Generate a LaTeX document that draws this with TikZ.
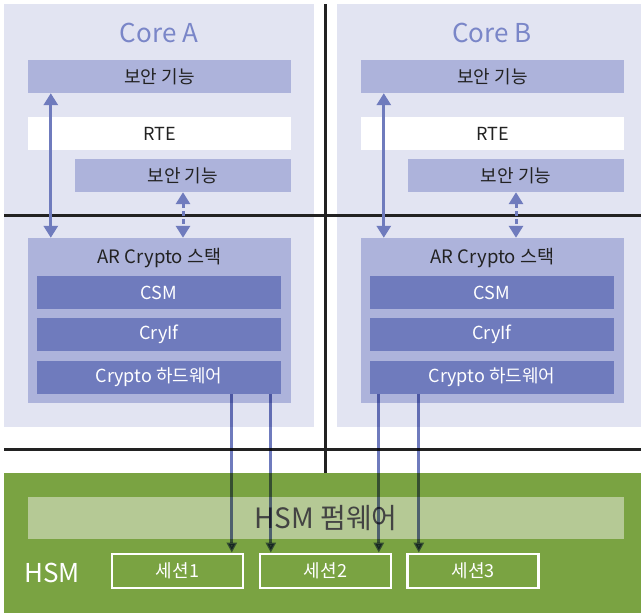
\documentclass[tikz,border=0pt]{standalone}
\usepackage{fontspec}
\setmainfont{Noto Sans CJK KR}
\usetikzlibrary{arrows.meta}

\definecolor{panelbg}{HTML}{E2E4F2}
\definecolor{secbox}{HTML}{ADB3DB}
\definecolor{modbox}{HTML}{6F7BBD}
\definecolor{titleblue}{HTML}{7A86C8}
\definecolor{hsmgreen}{HTML}{7AA342}
\definecolor{fwgreen}{HTML}{B5C995}
\definecolor{inkdark}{HTML}{222222}

\begin{document}
\begin{tikzpicture}[x=1pt, y=-1pt,
  panel/.style={fill=panelbg, inner sep=0pt},
  coretitle/.style={text=titleblue, font=\fontsize{26}{28}\selectfont},
  secbox/.style={fill=secbox, inner sep=0pt, minimum height=33pt, text=inkdark, font=\fontsize{18}{20}\selectfont},
  rtebox/.style={secbox, fill=white},
  modbox/.style={fill=modbox, inner sep=0pt, minimum width=244pt, minimum height=33pt, text=white, font=\fontsize{18}{20}\selectfont},
  sessbox/.style={draw=white, line width=2.8pt, inner sep=0pt, minimum width=131pt, minimum height=34pt, text=white, font=\fontsize{18}{20}\selectfont},
  sep/.style={draw=inkdark, line width=3pt},
  secarrow/.style={draw=modbox, line width=3pt, {Triangle[width=14pt,length=12pt]}-{Triangle[width=14pt,length=12pt]}},
  hsmline/.style={draw=modbox, line width=2.8pt, -{Triangle[width=10pt,length=10pt]}}]
  \useasboundingbox (0,0) rectangle (641,613);

  % cores
  \node[panel, minimum width=310pt, minimum height=423pt] (coreA) at (159,215.5) {};
  \node[panel, minimum width=304pt, minimum height=423pt] (coreB) at (489,215.5) {};
  \node[coretitle] (titleA) at (159,33) {Core A};
  \node[coretitle] (titleB) at (492,33) {Core B};

  % core A
  \node[secbox, minimum width=263pt] (secA1) at (159.5,76.5) {보안 기능};
  \node[rtebox, minimum width=263pt] (rteA) at (159.5,133.5) {RTE};
  \node[secbox, minimum width=216pt] (secA2) at (183,175.5) {보안 기능};
  \node[secbox, minimum width=263pt, minimum height=165pt] (stackA) at (159.5,320.5) {};
  \node[text=inkdark, font=\fontsize{18.5}{20}\selectfont] (stackAlbl) at (159.5,258) {AR Crypto 스택};
  \node[modbox] (csmA) at (159,292.5) {CSM};
  \node[modbox] (cryifA) at (159,334.5) {CryIf};
  \node[modbox] (hwA) at (159,377.5) {Crypto 하드웨어};

  % core B
  \node[secbox, minimum width=263pt] (secB1) at (492.5,76.5) {보안 기능};
  \node[rtebox, minimum width=263pt] (rteB) at (492.5,133.5) {RTE};
  \node[secbox, minimum width=216pt] (secB2) at (516,175.5) {보안 기능};
  \node[secbox, minimum width=263pt, minimum height=165pt] (stackB) at (492.5,320.5) {};
  \node[text=inkdark, font=\fontsize{18.5}{20}\selectfont] (stackBlbl) at (492.5,258) {AR Crypto 스택};
  \node[modbox] (csmB) at (492,292.5) {CSM};
  \node[modbox] (cryifB) at (492,334.5) {CryIf};
  \node[modbox] (hwB) at (492,377.5) {Crypto 하드웨어};

  % separators
  \draw[sep] (325,4) -- (325,473);
  \draw[sep] (4,215) -- (641,215);
  \draw[sep] (4,449) -- (641,449);

  % HSM
  \node[fill=hsmgreen, inner sep=0pt, minimum width=637pt, minimum height=140pt] (hsm) at (322.5,543) {};
  \node[fill=fwgreen, inner sep=0pt, minimum width=596pt, minimum height=42pt, text=inkdark!85, font=\fontsize{28}{30}\selectfont] (fw) at (326,518) {HSM 펌웨어};
  \node[text=white, font=\fontsize{26}{28}\selectfont] (hsmlbl) at (52,573) {HSM};
  \node[sessbox] (sess1) at (177.5,571) {세션1};
  \node[sessbox] (sess2) at (325.5,571) {세션2};
  \node[sessbox] (sess3) at (473,571) {세션3};

  % calls between layers
  \draw[secarrow] ([xshift=23pt]secA1.south west) -- ([xshift=23pt]stackA.north west);
  \draw[secarrow, dash pattern=on 5pt off 3pt] (secA2.south) -- (secA2.south |- stackA.north);
  \draw[secarrow] ([xshift=23pt]secB1.south west) -- ([xshift=23pt]stackB.north west);
  \draw[secarrow, dash pattern=on 5pt off 3pt] (secB2.south) -- (secB2.south |- stackB.north);

  % sessions
  \begin{scope}[blend mode=multiply]
    \draw[hsmline] ([xshift=195pt]hwA.south west) coordinate (a1) -- (a1 |- sess1.north);
    \draw[hsmline] ([xshift=234pt]hwA.south west) coordinate (a2) -- (a2 |- sess2.north);
    \draw[hsmline] ([xshift=9pt]hwB.south west) coordinate (b1) -- (b1 |- sess2.north);
    \draw[hsmline] ([xshift=49pt]hwB.south west) coordinate (b2) -- (b2 |- sess3.north);
  \end{scope}
\end{tikzpicture}
\end{document}
